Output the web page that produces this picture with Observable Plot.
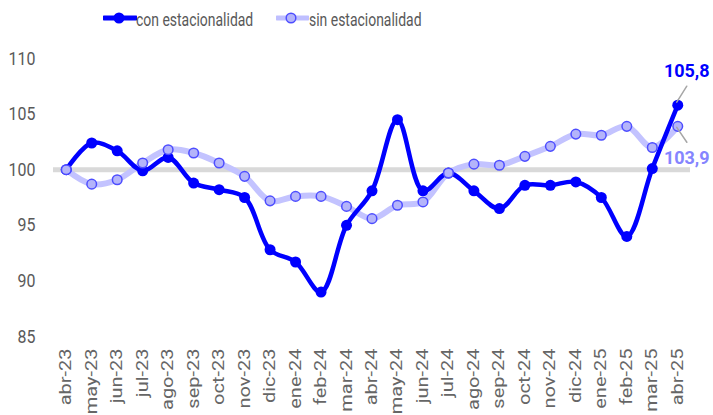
<!DOCTYPE html>
<html>
<head>
<meta charset="utf-8">
<script src="https://cdn.jsdelivr.net/npm/d3@7"></script>
<script src="https://cdn.jsdelivr.net/npm/@observablehq/plot@0.6"></script>
<style>
  html, body { margin: 0; padding: 0; background: #fff; }
  #wrap { width: 713px; height: 415px; position: relative; overflow: hidden; font-family: Roboto, sans-serif; }
  #legend { position: relative; height: 36px; width: 713px; }
  .lg-sym { position: absolute; top: 0; }
  .lg-txt { position: absolute; top: 2px; line-height: 36px; font-size: 18px; color: #595959; transform: scaleX(0.775); transform-origin: left center; white-space: nowrap; }
  svg { display: block; }
</style>
</head>
<body>
<div id="wrap">
  <div id="legend">
    <svg class="lg-sym" style="left:103px" width="34" height="36"><line x1="1" x2="33" y1="18" y2="18" stroke="#0000ff" stroke-width="5" stroke-linecap="round"/><circle cx="16" cy="18" r="5.5" fill="#0000ff"/></svg>
    <span class="lg-txt" style="left:136px">con estacionalidad</span>
    <svg class="lg-sym" style="left:276px" width="33" height="36"><line x1="1" x2="32" y1="18" y2="18" stroke="#bfbfff" stroke-width="5" stroke-linecap="round"/><circle cx="15" cy="18" r="4.8" fill="#b4b4fa" stroke="#4d4dff" stroke-width="1.5"/></svg>
    <span class="lg-txt" style="left:309px">sin estacionalidad</span>
  </div>
  <div id="chart"></div>
</div>
<script>
const months = ["abr-23","may-23","jun-23","jul-23","ago-23","sep-23","oct-23","nov-23","dic-23","ene-24","feb-24","mar-24","abr-24","may-24","jun-24","jul-24","ago-24","sep-24","oct-24","nov-24","dic-24","ene-25","feb-25","mar-25","abr-25"];
const conEst = [100,102.4,101.7,99.9,101.1,98.8,98.2,97.5,92.8,91.7,89.0,95.0,98.1,104.5,98.1,99.7,98.1,96.5,98.6,98.6,98.9,97.5,94.0,100.1,105.8];
const sinEst = [100,98.7,99.1,100.6,101.8,101.5,100.6,99.4,97.2,97.6,97.6,96.7,95.6,96.8,97.1,99.7,100.5,100.4,101.2,102.1,103.2,103.1,103.9,102.0,103.9];
const yTicks = [85, 90, 95, 100, 105, 110];
const baseline = [100];

const con = months.map((m, i) => ({month: m, value: conEst[i]}));
const sin = months.map((m, i) => ({month: m, value: sinEst[i]}));
const conLast = [con[con.length - 1]];
const sinLast = [sin[sin.length - 1]];
const fmt = d => d.value.toFixed(1).replace(".", ",");
const leader = {draw(ctx, l) { ctx.moveTo(0, 0); ctx.lineTo(0, -l); }};

const chart = Plot.plot({
  width: 713,
  height: 379,
  marginLeft: 53,
  marginRight: 23,
  marginTop: 22,
  marginBottom: 79,
  style: {fontFamily: "Roboto, sans-serif", color: "#595959", background: "#fff"},
  x: {type: "point", domain: months, padding: 0.5, round: false, label: null},
  y: {domain: [85, 110], label: null},
  marks: [
    Plot.ruleY(baseline, {stroke: "#d9d9d9", strokeWidth: 5}),
    Plot.axisY({ticks: yTicks, tickSize: 0, tickPadding: 18, fontSize: 19, fill: "#595959", label: null}),
    Plot.axisX({tickSize: 0, tickPadding: 12, tickRotate: -90, fontSize: 20, fill: "#666666", label: null}),
    Plot.line(sin, {x: "month", y: "value", stroke: "#c3c3ff", strokeWidth: 6, curve: "catmull-rom"}),
    Plot.line(con, {x: "month", y: "value", stroke: "#0000ff", strokeWidth: 4.5, curve: "catmull-rom"}),
    Plot.dot(con, {x: "month", y: "value", r: 5.5, fill: "#0000ff"}),
    Plot.dot(sin, {x: "month", y: "value", r: 4.8, fill: "#b4b4fa", stroke: "#4d4dff", strokeWidth: 1.5}),
    Plot.vector(conLast, {x: "month", y: "value", length: 18.9, rotate: 32, anchor: "start", dx: -1, dy: -3, stroke: "#a6a6a6", strokeWidth: 1.5, shape: leader}),
    Plot.vector(sinLast, {x: "month", y: "value", length: 18, rotate: 146, anchor: "start", dx: -1, dy: 1, stroke: "#a6a6a6", strokeWidth: 1.5, shape: leader}),
    Plot.text(conLast, {x: "month", y: "value", text: fmt, dx: 9, dy: -34, fill: "#0000ff", fontWeight: "bold", fontSize: 18}),
    Plot.text(sinLast, {x: "month", y: "value", text: fmt, dx: 9, dy: 32, fill: "#8585ff", fontWeight: "bold", fontSize: 18})
  ]
});

function squish(t, sx, sy) {
  const tr = t.getAttribute("transform") || "";
  t.setAttribute("transform", `${tr} scale(${sx},${sy})`);
}
chart.querySelectorAll('g[aria-label="y-axis tick label"] text').forEach(t => squish(t, 0.84, 1));
chart.querySelectorAll('g[aria-label="x-axis tick label"] text').forEach(t => squish(t, 1, 0.78));

document.getElementById("chart").appendChild(chart);
</script>
</body>
</html>
